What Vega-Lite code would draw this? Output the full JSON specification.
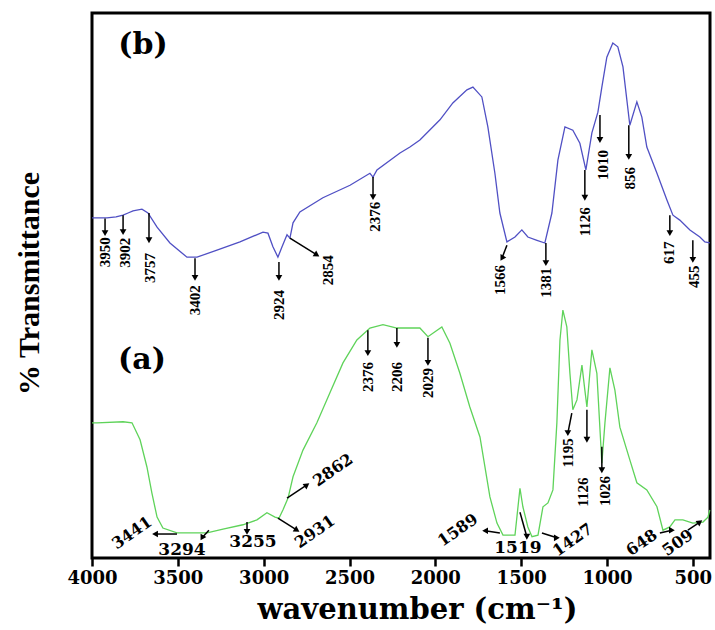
{
  "$schema": "https://vega.github.io/schema/vega-lite/v6.json",
  "width": 618,
  "height": 545,
  "autosize": "none",
  "padding": {"left": 92, "top": 13, "right": 5, "bottom": 72},
  "background": "white",
  "config": {
    "view": {"stroke": "black", "strokeWidth": 3},
    "axis": {"grid": false},
    "axisX": {"labelFont": "DejaVu Serif", "labelFontWeight": "bold", "labelFontSize": 18, "labelColor": "black",
              "labelPadding": 3, "labelFlush": false, "labelOverlap": false, "labelBound": false,
              "tickColor": "black", "tickWidth": 2.5, "tickSize": 8, "domain": false, "grid": false,
              "titleFont": "DejaVu Serif", "titleFontWeight": "bold",
              "titleFontSize": 29, "titleColor": "black", "titleX": 325, "titleY": 60,
              "titleBaseline": "alphabetic", "titleAlign": "center"},
    "axisY": {"labels": false, "ticks": false, "domain": false, "grid": false,
              "titleFont": "Liberation Serif", "titleFontWeight": "bold", "titleFontSize": 30,
              "titleColor": "black", "titleX": -63, "titleY": 270, "titleAngle": 270,
              "titleBaseline": "middle", "titleAlign": "center"}
  },
  "datasets": {
    "spectra": [
      {"wn":4000,"T":62.4,"s":"b"},{"wn":3971,"T":62.4,"s":"b"},{"wn":3913,"T":62.4,"s":"b"},{"wn":3860,"T":62.6,"s":"b"},{"wn":3819,"T":62.9,"s":"b"},{"wn":3790,"T":63.3,"s":"b"},{"wn":3761,"T":63.7,"s":"b"},{"wn":3709,"T":64.0,"s":"b"},{"wn":3674,"T":63.3,"s":"b"},{"wn":3621,"T":60.7,"s":"b"},{"wn":3546,"T":57.8,"s":"b"},{"wn":3447,"T":55.2,"s":"b"},{"wn":3388,"T":55.2,"s":"b"},{"wn":3272,"T":56.5,"s":"b"},{"wn":3138,"T":58.0,"s":"b"},{"wn":3004,"T":59.8,"s":"b"},{"wn":2975,"T":59.6,"s":"b"},{"wn":2946,"T":57.1,"s":"b"},{"wn":2917,"T":55.2,"s":"b"},{"wn":2893,"T":57.1,"s":"b"},{"wn":2864,"T":59.3,"s":"b"},{"wn":2847,"T":58.7,"s":"b"},{"wn":2829,"T":61.5,"s":"b"},{"wn":2789,"T":63.5,"s":"b"},{"wn":2655,"T":66.1,"s":"b"},{"wn":2497,"T":68.4,"s":"b"},{"wn":2381,"T":70.6,"s":"b"},{"wn":2363,"T":69.9,"s":"b"},{"wn":2340,"T":71.2,"s":"b"},{"wn":2206,"T":74.3,"s":"b"},{"wn":2148,"T":75.4,"s":"b"},{"wn":2090,"T":76.7,"s":"b"},{"wn":1973,"T":80.4,"s":"b"},{"wn":1898,"T":83.5,"s":"b"},{"wn":1816,"T":85.9,"s":"b"},{"wn":1781,"T":86.4,"s":"b"},{"wn":1729,"T":84.6,"s":"b"},{"wn":1694,"T":79.1,"s":"b"},{"wn":1653,"T":70.6,"s":"b"},{"wn":1624,"T":63.3,"s":"b"},{"wn":1583,"T":58.0,"s":"b"},{"wn":1536,"T":58.9,"s":"b"},{"wn":1496,"T":60.2,"s":"b"},{"wn":1461,"T":58.9,"s":"b"},{"wn":1408,"T":58.3,"s":"b"},{"wn":1362,"T":57.8,"s":"b"},{"wn":1321,"T":63.3,"s":"b"},{"wn":1286,"T":73.0,"s":"b"},{"wn":1245,"T":79.1,"s":"b"},{"wn":1199,"T":78.5,"s":"b"},{"wn":1158,"T":76.1,"s":"b"},{"wn":1123,"T":71.2,"s":"b"},{"wn":1088,"T":78.0,"s":"b"},{"wn":1053,"T":81.8,"s":"b"},{"wn":1030,"T":86.4,"s":"b"},{"wn":1001,"T":91.9,"s":"b"},{"wn":966,"T":94.5,"s":"b"},{"wn":937,"T":93.8,"s":"b"},{"wn":907,"T":90.1,"s":"b"},{"wn":867,"T":79.4,"s":"b"},{"wn":826,"T":83.7,"s":"b"},{"wn":797,"T":80.9,"s":"b"},{"wn":768,"T":75.4,"s":"b"},{"wn":709,"T":70.6,"s":"b"},{"wn":651,"T":65.7,"s":"b"},{"wn":616,"T":62.9,"s":"b"},{"wn":576,"T":62.0,"s":"b"},{"wn":517,"T":60.2,"s":"b"},{"wn":459,"T":58.9,"s":"b"},{"wn":430,"T":58.0,"s":"b"},{"wn":401,"T":57.8,"s":"b"},
      {"wn":4000,"T":24.8,"s":"a"},{"wn":3971,"T":24.8,"s":"a"},{"wn":3819,"T":25.0,"s":"a"},{"wn":3767,"T":24.8,"s":"a"},{"wn":3720,"T":21.7,"s":"a"},{"wn":3680,"T":16.7,"s":"a"},{"wn":3651,"T":11.9,"s":"a"},{"wn":3621,"T":7.5,"s":"a"},{"wn":3587,"T":5.5,"s":"a"},{"wn":3505,"T":4.6,"s":"a"},{"wn":3429,"T":4.6,"s":"a"},{"wn":3330,"T":4.6,"s":"a"},{"wn":3237,"T":5.3,"s":"a"},{"wn":3121,"T":6.1,"s":"a"},{"wn":3039,"T":7.0,"s":"a"},{"wn":2981,"T":8.3,"s":"a"},{"wn":2934,"T":7.5,"s":"a"},{"wn":2911,"T":7.3,"s":"a"},{"wn":2888,"T":8.8,"s":"a"},{"wn":2858,"T":11.0,"s":"a"},{"wn":2829,"T":14.9,"s":"a"},{"wn":2771,"T":19.8,"s":"a"},{"wn":2690,"T":24.8,"s":"a"},{"wn":2614,"T":30.3,"s":"a"},{"wn":2538,"T":35.8,"s":"a"},{"wn":2457,"T":40.0,"s":"a"},{"wn":2381,"T":42.2,"s":"a"},{"wn":2305,"T":42.8,"s":"a"},{"wn":2224,"T":42.2,"s":"a"},{"wn":2148,"T":42.2,"s":"a"},{"wn":2090,"T":42.2,"s":"a"},{"wn":2043,"T":40.6,"s":"a"},{"wn":2002,"T":41.5,"s":"a"},{"wn":1962,"T":42.4,"s":"a"},{"wn":1915,"T":39.4,"s":"a"},{"wn":1857,"T":33.9,"s":"a"},{"wn":1799,"T":27.7,"s":"a"},{"wn":1740,"T":22.2,"s":"a"},{"wn":1682,"T":11.2,"s":"a"},{"wn":1641,"T":6.4,"s":"a"},{"wn":1606,"T":4.2,"s":"a"},{"wn":1536,"T":4.2,"s":"a"},{"wn":1507,"T":12.8,"s":"a"},{"wn":1490,"T":9.4,"s":"a"},{"wn":1461,"T":5.7,"s":"a"},{"wn":1437,"T":3.9,"s":"a"},{"wn":1402,"T":4.2,"s":"a"},{"wn":1373,"T":9.4,"s":"a"},{"wn":1344,"T":10.1,"s":"a"},{"wn":1315,"T":12.5,"s":"a"},{"wn":1292,"T":24.8,"s":"a"},{"wn":1274,"T":40.0,"s":"a"},{"wn":1257,"T":45.5,"s":"a"},{"wn":1234,"T":42.4,"s":"a"},{"wn":1216,"T":33.9,"s":"a"},{"wn":1199,"T":27.2,"s":"a"},{"wn":1175,"T":29.0,"s":"a"},{"wn":1146,"T":35.4,"s":"a"},{"wn":1129,"T":30.8,"s":"a"},{"wn":1117,"T":27.7,"s":"a"},{"wn":1088,"T":38.2,"s":"a"},{"wn":1059,"T":33.9,"s":"a"},{"wn":1030,"T":17.4,"s":"a"},{"wn":1012,"T":24.8,"s":"a"},{"wn":983,"T":34.9,"s":"a"},{"wn":954,"T":30.8,"s":"a"},{"wn":925,"T":24.0,"s":"a"},{"wn":867,"T":18.0,"s":"a"},{"wn":826,"T":13.8,"s":"a"},{"wn":768,"T":12.5,"s":"a"},{"wn":709,"T":9.4,"s":"a"},{"wn":674,"T":5.1,"s":"a"},{"wn":634,"T":5.7,"s":"a"},{"wn":604,"T":7.0,"s":"a"},{"wn":558,"T":7.0,"s":"a"},{"wn":500,"T":6.4,"s":"a"},{"wn":441,"T":6.6,"s":"a"},{"wn":412,"T":7.5,"s":"a"},{"wn":401,"T":8.8,"s":"a"}
    ],
    "notes": [
      {"label":"3950","tx":3924,"ty":56.1,"o":"v","ax":3924,"ay":62.3,"hx":3924,"hy":59.6,"dir":"down"},
      {"label":"3902","tx":3808,"ty":56.0,"o":"v","ax":3819,"ay":62.9,"hx":3819,"hy":59.8,"dir":"down"},
      {"label":"3757","tx":3662,"ty":53.2,"o":"v","ax":3668,"ay":63.3,"hx":3668,"hy":58.3,"dir":"down"},
      {"label":"3402","tx":3400,"ty":47.3,"o":"v","ax":3400,"ay":55.0,"hx":3400,"hy":51.4,"dir":"down"},
      {"label":"2924","tx":2911,"ty":46.4,"o":"v","ax":2911,"ay":54.3,"hx":2911,"hy":51.4,"dir":"down"},
      {"label":"2854","tx":2626,"ty":52.8,"o":"v","ax":2847,"ay":58.7,"hx":2690,"hy":55.6,"dir":"downright"},
      {"label":"2376","tx":2352,"ty":62.6,"o":"v","ax":2363,"ay":69.9,"hx":2363,"hy":66.2,"dir":"down"},
      {"label":"1566","tx":1624,"ty":51.0,"o":"v","ax":1583,"ay":57.4,"hx":1612,"hy":55.0,"dir":"downleft"},
      {"label":"1381","tx":1356,"ty":50.5,"o":"v","ax":1356,"ay":57.8,"hx":1356,"hy":54.1,"dir":"down"},
      {"label":"1126","tx":1129,"ty":61.7,"o":"v","ax":1129,"ay":71.2,"hx":1129,"hy":66.1,"dir":"down"},
      {"label":"1010","tx":1024,"ty":72.1,"o":"v","ax":1041,"ay":81.3,"hx":1041,"hy":76.7,"dir":"down"},
      {"label":"856","tx":867,"ty":69.7,"o":"v","ax":873,"ay":79.4,"hx":873,"hy":73.6,"dir":"down"},
      {"label":"617","tx":640,"ty":56.0,"o":"v","ax":634,"ay":62.9,"hx":634,"hy":59.6,"dir":"down"},
      {"label":"455","tx":494,"ty":51.6,"o":"v","ax":500,"ay":58.3,"hx":500,"hy":54.7,"dir":"down"},
      {"label":"3441","tx":3767,"ty":4.6,"o":"d","ax":3505,"ay":4.4,"hx":3633,"hy":4.4,"dir":"left"},
      {"label":"3294","tx":3476,"ty":1.5,"o":"h","ax":3319,"ay":5.1,"hx":3359,"hy":3.7,"dir":"downleft"},
      {"label":"3255","tx":3062,"ty":2.9,"o":"h","ax":3097,"ay":6.6,"hx":3097,"hy":4.8,"dir":"down"},
      {"label":"2931","tx":2701,"ty":4.8,"o":"d","ax":2917,"ay":7.3,"hx":2806,"hy":5.1,"dir":"downright"},
      {"label":"2862","tx":2596,"ty":16.1,"o":"d","ax":2864,"ay":11.0,"hx":2748,"hy":13.4,"dir":"upright"},
      {"label":"2376","tx":2393,"ty":33.2,"o":"v","ax":2393,"ay":41.8,"hx":2393,"hy":37.6,"dir":"down"},
      {"label":"2206","tx":2224,"ty":33.2,"o":"v","ax":2224,"ay":42.2,"hx":2224,"hy":39.1,"dir":"down"},
      {"label":"2029","tx":2043,"ty":32.1,"o":"v","ax":2043,"ay":40.4,"hx":2043,"hy":35.8,"dir":"down"},
      {"label":"1589","tx":1868,"ty":5.1,"o":"d","ax":1624,"ay":4.6,"hx":1710,"hy":5.0,"dir":"left"},
      {"label":"1519","tx":1519,"ty":1.8,"o":"h","ax":1507,"ay":8.4,"hx":1467,"hy":3.9,"dir":"down"},
      {"label":"1427","tx":1199,"ty":3.3,"o":"d","ax":1379,"ay":4.6,"hx":1292,"hy":3.7,"dir":"right"},
      {"label":"1195","tx":1228,"ty":19.3,"o":"v","ax":1205,"ay":26.6,"hx":1228,"hy":22.9,"dir":"down"},
      {"label":"1126","tx":1140,"ty":12.1,"o":"v","ax":1117,"ay":27.2,"hx":1117,"hy":21.7,"dir":"down"},
      {"label":"1026","tx":1012,"ty":12.3,"o":"v","ax":1030,"ay":20.4,"hx":1030,"hy":16.1,"dir":"down"},
      {"label":"648","tx":797,"ty":2.8,"o":"d","ax":692,"ay":4.6,"hx":622,"hy":5.1,"dir":"right"},
      {"label":"509","tx":587,"ty":2.8,"o":"d","ax":529,"ay":5.1,"hx":459,"hy":6.6,"dir":"upright"}
    ],
    "panels": [
      {"label":"(b)","wn":3703,"T":94.1},
      {"label":"(a)","wn":3709,"T":36.3}
    ]
  },
  "layer": [
    {
      "data": {"name": "spectra"},
      "mark": {"type": "line", "strokeWidth": 1.3},
      "encoding": {
        "x": {"field": "wn", "type": "quantitative",
              "scale": {"domain": [400, 4000], "reverse": true, "nice": false, "zero": false},
              "axis": {"values": [4000, 3500, 3000, 2500, 2000, 1500, 1000, 500], "format": "d"},
              "title": "wavenumber (cm⁻¹)"},
        "y": {"field": "T", "type": "quantitative",
              "scale": {"domain": [0, 100], "nice": false, "zero": false},
              "title": "% Transmittance"},
        "color": {"field": "s", "type": "nominal",
                  "scale": {"domain": ["a", "b"], "range": ["#5fd35a", "#5050c4"]}, "legend": null}
      }
    },
    {
      "data": {"name": "notes"},
      "mark": {"type": "rule", "color": "black", "strokeWidth": 1.5},
      "encoding": {
        "x": {"field": "ax", "type": "quantitative", "axis": {"values": [4000, 3500, 3000, 2500, 2000, 1500, 1000, 500], "format": "d"}, "title": "wavenumber (cm⁻¹)"},
        "y": {"field": "ay", "type": "quantitative", "title": "% Transmittance"},
        "x2": {"field": "hx"},
        "y2": {"field": "hy"}
      }
    },
    {
      "data": {"name": "notes"},
      "transform": [{"filter": "datum.dir == 'down'"}],
      "mark": {"type": "point", "shape": "triangle-up", "angle": 180, "filled": true, "color": "black", "size": 45, "opacity": 1},
      "encoding": {
        "x": {"field": "hx", "type": "quantitative", "axis": {"values": [4000, 3500, 3000, 2500, 2000, 1500, 1000, 500], "format": "d"}, "title": "wavenumber (cm⁻¹)"},
        "y": {"field": "hy", "type": "quantitative", "title": "% Transmittance"}
      }
    },
    {
      "data": {"name": "notes"},
      "transform": [{"filter": "datum.dir == 'left'"}],
      "mark": {"type": "point", "shape": "triangle-up", "angle": 270, "filled": true, "color": "black", "size": 45, "opacity": 1},
      "encoding": {
        "x": {"field": "hx", "type": "quantitative", "axis": {"values": [4000, 3500, 3000, 2500, 2000, 1500, 1000, 500], "format": "d"}, "title": "wavenumber (cm⁻¹)"},
        "y": {"field": "hy", "type": "quantitative", "title": "% Transmittance"}
      }
    },
    {
      "data": {"name": "notes"},
      "transform": [{"filter": "datum.dir == 'right'"}],
      "mark": {"type": "point", "shape": "triangle-up", "angle": 90, "filled": true, "color": "black", "size": 45, "opacity": 1},
      "encoding": {
        "x": {"field": "hx", "type": "quantitative", "axis": {"values": [4000, 3500, 3000, 2500, 2000, 1500, 1000, 500], "format": "d"}, "title": "wavenumber (cm⁻¹)"},
        "y": {"field": "hy", "type": "quantitative", "title": "% Transmittance"}
      }
    },
    {
      "data": {"name": "notes"},
      "transform": [{"filter": "datum.dir == 'upright'"}],
      "mark": {"type": "point", "shape": "triangle-up", "angle": 55, "filled": true, "color": "black", "size": 45, "opacity": 1},
      "encoding": {
        "x": {"field": "hx", "type": "quantitative", "axis": {"values": [4000, 3500, 3000, 2500, 2000, 1500, 1000, 500], "format": "d"}, "title": "wavenumber (cm⁻¹)"},
        "y": {"field": "hy", "type": "quantitative", "title": "% Transmittance"}
      }
    },
    {
      "data": {"name": "notes"},
      "transform": [{"filter": "datum.dir == 'downright'"}],
      "mark": {"type": "point", "shape": "triangle-up", "angle": 122, "filled": true, "color": "black", "size": 45, "opacity": 1},
      "encoding": {
        "x": {"field": "hx", "type": "quantitative", "axis": {"values": [4000, 3500, 3000, 2500, 2000, 1500, 1000, 500], "format": "d"}, "title": "wavenumber (cm⁻¹)"},
        "y": {"field": "hy", "type": "quantitative", "title": "% Transmittance"}
      }
    },
    {
      "data": {"name": "notes"},
      "transform": [{"filter": "datum.dir == 'downleft'"}],
      "mark": {"type": "point", "shape": "triangle-up", "angle": 210, "filled": true, "color": "black", "size": 45, "opacity": 1},
      "encoding": {
        "x": {"field": "hx", "type": "quantitative", "axis": {"values": [4000, 3500, 3000, 2500, 2000, 1500, 1000, 500], "format": "d"}, "title": "wavenumber (cm⁻¹)"},
        "y": {"field": "hy", "type": "quantitative", "title": "% Transmittance"}
      }
    },
    {
      "data": {"name": "notes"},
      "transform": [{"filter": "datum.o == 'v'"}],
      "mark": {"type": "text", "angle": 270, "align": "center", "baseline": "middle",
               "font": "Liberation Serif", "fontWeight": "bold", "fontSize": 15, "color": "black"},
      "encoding": {
        "x": {"field": "tx", "type": "quantitative", "axis": {"values": [4000, 3500, 3000, 2500, 2000, 1500, 1000, 500], "format": "d"}, "title": "wavenumber (cm⁻¹)"},
        "y": {"field": "ty", "type": "quantitative", "title": "% Transmittance"},
        "text": {"field": "label"}
      }
    },
    {
      "data": {"name": "notes"},
      "transform": [{"filter": "datum.o == 'h'"}],
      "mark": {"type": "text", "align": "center", "baseline": "middle",
               "font": "DejaVu Serif", "fontWeight": "bold", "fontSize": 17, "color": "black"},
      "encoding": {
        "x": {"field": "tx", "type": "quantitative", "axis": {"values": [4000, 3500, 3000, 2500, 2000, 1500, 1000, 500], "format": "d"}, "title": "wavenumber (cm⁻¹)"},
        "y": {"field": "ty", "type": "quantitative", "title": "% Transmittance"},
        "text": {"field": "label"}
      }
    },
    {
      "data": {"name": "notes"},
      "transform": [{"filter": "datum.o == 'd'"}],
      "mark": {"type": "text", "angle": 325, "align": "center", "baseline": "middle",
               "font": "DejaVu Serif", "fontWeight": "bold", "fontSize": 16, "color": "black"},
      "encoding": {
        "x": {"field": "tx", "type": "quantitative", "axis": {"values": [4000, 3500, 3000, 2500, 2000, 1500, 1000, 500], "format": "d"}, "title": "wavenumber (cm⁻¹)"},
        "y": {"field": "ty", "type": "quantitative", "title": "% Transmittance"},
        "text": {"field": "label"}
      }
    },
    {
      "data": {"name": "panels"},
      "mark": {"type": "text", "align": "center", "baseline": "middle",
               "font": "DejaVu Serif", "fontWeight": "bold", "fontSize": 30, "color": "black"},
      "encoding": {
        "x": {"field": "wn", "type": "quantitative", "axis": {"values": [4000, 3500, 3000, 2500, 2000, 1500, 1000, 500], "format": "d"}, "title": "wavenumber (cm⁻¹)"},
        "y": {"field": "T", "type": "quantitative", "title": "% Transmittance"},
        "text": {"field": "label"}
      }
    }
  ]
}
